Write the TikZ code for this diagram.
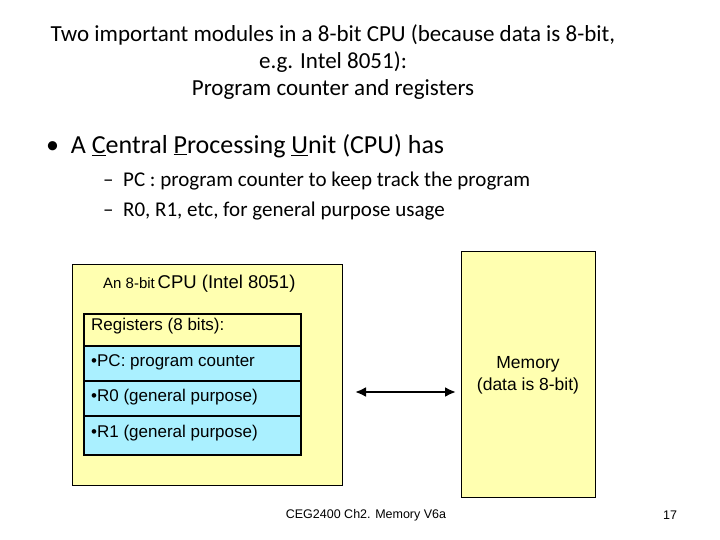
\documentclass[tikz,border=0pt]{standalone}
\usepackage{fontspec}
\setmainfont{Carlito}
\newfontfamily\arialf{Liberation Sans}
\usetikzlibrary{arrows.meta}
\definecolor{cpuyellow}{RGB}{255,255,176}
\definecolor{regblue}{RGB}{170,240,255}
\begin{document}
\begin{tikzpicture}[x=1pt,y=-1pt]
% Define styles
\tikzstyle{title} = [font=\fontsize{23}{27}\selectfont, align=center]
\tikzstyle{reg} = [draw, line width=1.6pt, fill=regblue, minimum width=217pt, minimum height=35pt, anchor=north west, inner sep=0pt]
\tikzstyle{regtext} = [font=\arialf\fontsize{17}{20}\selectfont, anchor=west, inner sep=0pt]
\useasboundingbox (0,0) rectangle (720,540);
% Title and bullets
\node[title] (head) at (333,62) {Two important modules in a 8-bit CPU (because data is 8-bit,\\e.g. Intel 8051):\\Program counter and registers};
\node[font=\fontsize{26}{30}\selectfont, anchor=west, inner sep=0pt] (cpu) at (46,146) {\textbullet\ \ A \underline{C}entral \underline{P}rocessing \underline{U}nit (CPU) has};
\node[font=\fontsize{21}{24}\selectfont, anchor=west, inner sep=0pt] (pc) at (103,181) {--\ \ PC : program counter to keep track the program};
\node[font=\fontsize{21}{24}\selectfont, anchor=west, inner sep=0pt] (r0) at (103,211) {--\ \ R0, R1, etc, for general purpose usage};
% CPU box
\node[draw, fill=cpuyellow, minimum width=270pt, minimum height=221pt, anchor=north west, inner sep=0pt] (cpubox) at (72,264) {};
\node[font=\arialf, anchor=west, inner sep=0pt] (cpulbl) at (103,284) {{\fontsize{15}{17}\selectfont An 8-bit} {\fontsize{18.5}{21}\selectfont CPU (Intel 8051)}};
\node[reg, fill=cpuyellow, minimum height=32pt] (hdr) at (83,313) {};
\node[reg] (regpc) at (83,345) {};
\node[reg] (regr0) at (83,380) {};
\node[reg, minimum height=39pt] (regr1) at (83,415) {};
\node[regtext] at (91,326) {Registers (8 bits):};
\node[regtext] at (91,362) {\textbullet PC: program counter};
\node[regtext] at (91,397) {\textbullet R0 (general purpose)};
\node[regtext] at (91,433) {\textbullet R1 (general purpose)};
% Memory
\node[draw, fill=cpuyellow, minimum width=134pt, minimum height=246pt, anchor=north west, inner sep=0pt] (mem) at (461,251) {};
\node[font=\arialf\fontsize{17.5}{22}\selectfont, align=center] (memlbl) at (528,375) {Memory\\(data is 8-bit)};
\coordinate (ca) at (355,392);
\coordinate (cb) at (456,392);
\draw[{Latex[length=11pt,width=10pt]}-{Latex[length=11pt,width=10pt]}, line width=2.6pt] (ca) -- (cb);
% Footer
\node[font=\arialf\fontsize{12.5}{15}\selectfont] (foot) at (366,515) {CEG2400 Ch2. Memory V6a};
\node[font=\arialf\fontsize{12.5}{15}\selectfont] (page) at (670,515) {17};
\end{tikzpicture}
\end{document}
